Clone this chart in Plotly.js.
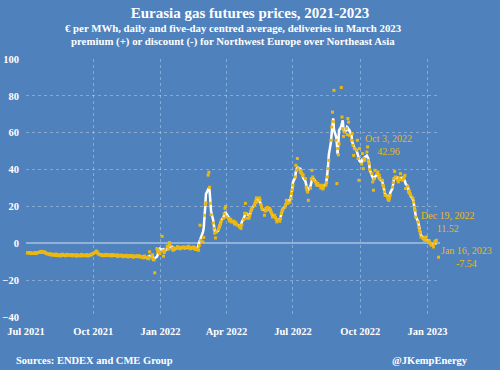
<!DOCTYPE html>
<html>
<head>
<meta charset="utf-8">
<script src="https://cdn.plot.ly/plotly-3.0.1.min.js"></script>
<style>html,body{margin:0;padding:0;background:#4F81BD;}#chart{width:500px;height:370px;}</style>
</head>
<body>
<div id="chart"></div>
<script>
// Daily premium (+) / discount (-), EUR per MWh, one value per business day of each month
const jul21 = [-5.1,-5.3,-5.0,-5.4,-5.2,-5.6,-5.3,-5.5,-5.1,-5.4,-5.6,-5.2,-5.0,-4.7,-4.5,-4.4,-4.8,-4.6,-5.0,-5.3,-5.5,-5.8];
const aug21 = [-5.9,-6.2,-5.7,-6.4,-6.0,-6.6,-6.3,-5.8,-6.1,-6.7,-6.5,-6.9,-6.2,-6.4,-5.9,-6.6,-6.8,-6.3,-6.0,-6.5,-6.2,-6.7];
const sep21 = [-6.4,-6.1,-6.8,-6.3,-6.6,-7.0,-6.2,-6.5,-6.9,-6.4,-6.0,-6.7,-6.3,-6.8,-6.5,-6.1,-6.6,-6.9,-6.2,-6.4,-6.0,-5.6];
const oct21 = [-5.5,-5.0,-4.2,-4.6,-5.3,-5.9,-6.4,-6.1,-6.6,-6.3,-6.8,-6.0,-6.5,-6.2,-6.7,-6.4,-6.1,-6.9,-6.3,-6.6,-6.2];
const nov21 = [-6.5,-6.9,-6.3,-7.1,-6.7,-6.4,-7.0,-6.6,-7.3,-6.8,-6.5,-7.2,-6.9,-7.4,-6.7,-7.0,-6.6,-7.3,-7.5,-6.9,-7.1,-6.8];
const dec21 = [-7.0,-7.4,-6.8,-7.6,-7.2,-7.9,-7.3,-6.9,-7.7,-8.2,-7.5,-8.4,-4.6,-7.1,-6.2,-8.5,-9.0,-16.0,-2.9,-4.5,-3.8,-5.0,-5.6];
const jan22 = [3.8,-4.2,-7.0,-5.0,-3.8,-1.5,-2.0,-3.2,0.4,-1.0,-2.9,-3.8,-2.5,-3.3,-2.9,-1.8,-2.6,-2.2,-2.4,-3.0,-2.1];
const feb22 = [-2.3,-2.0,-2.8,-2.4,-2.0,-1.6,-2.6,-2.2,-3.0,-2.5,-2.0,-2.9,-2.3,-3.4,-3.0,-3.8,-1.1,9.8,1.6,0.7];
const mar22 = [3.2,15.2,21.0,22.0,37.0,38.5,30.4,21.7,15.5,11.0,8.1,5.5,2.9,6.1,7.5,8.5,9.8,10.5,12.0,13.6,16.0,19.0,20.0];
const apr22 = [14.3,13.5,12.5,12.0,13.0,11.6,12.0,10.5,11.5,10.8,10.0,9.5,8.8,9.5,8.1,10.0,13.0,16.3,21.7,16.0,13.6];
const may22 = [13.6,15.0,17.0,18.0,19.0,20.5,21.7,23.0,24.6,22.4,24.6,23.5,21.0,19.7,18.5,15.2,17.5,19.0,18.0,19.5,19.0,18.2];
const jun22 = [17.0,16.0,14.3,15.2,14.0,13.0,11.6,12.5,12.0,13.5,16.1,17.5,18.5,19.7,21.0,23.3,22.5,21.7,22.4,24.5,27.0,29.0];
const jul22 = [31.5,36.0,42.3,39.6,46.0,40.5,38.7,39.5,37.8,36.5,37.0,35.1,30.5,29.0,27.8,23.3,30.0,35.0,39.6,36.0,34.2];
const aug22 = [33.3,32.0,31.5,32.5,31.5,30.0,31.5,30.5,29.5,30.5,31.5,33.0,36.0,40.5,45.0,55.9,63.1,71.2,66.0,83.0,55.9,32.4,51.4];
const sep22 = [48.0,54.0,84.5,68.5,62.2,58.0,60.4,62.2,59.0,67.7,65.8,58.6,55.9,59.5,53.2,47.7,51.4,50.5,55.9,46.0,34.2,51.4];
const oct22 = [42.96,48.7,40.5,46.0,45.0,49.5,52.3,45.0,43.2,40.0,37.8,33.3,28.8,35.0,39.6,37.8,38.7,36.0,36.9,35.0,34.2];
const nov22 = [31.5,30.5,28.0,26.0,25.1,24.0,23.3,24.5,26.0,30.5,33.0,35.1,39.0,36.0,34.2,33.3,35.5,34.5,37.8,34.2,35.1,36.0];
const dec22 = [36.9,29.7,31.0,27.8,28.5,27.0,26.0,24.5,22.4,19.5,17.9,14.3,11.52,8.8,7.0,5.5,3.4,2.5,3.0,1.6,2.0,3.4];
const jan23 = [0.7,1.5,0.2,-0.2,-1.0,-2.0,-0.2,0.8,1.2,1.6,-7.54];

const months = [
  [2021,7,jul21],[2021,8,aug21],[2021,9,sep21],[2021,10,oct21],[2021,11,nov21],[2021,12,dec21],
  [2022,1,jan22],[2022,2,feb22],[2022,3,mar22],[2022,4,apr22],[2022,5,may22],[2022,6,jun22],
  [2022,7,jul22],[2022,8,aug22],[2022,9,sep22],[2022,10,oct22],[2022,11,nov22],[2022,12,dec22],
  [2023,1,jan23]
];

const tickLabels = ['Jul 2021','Oct 2021','Jan 2022','Apr 2022','Jul 2022','Oct 2022','Jan 2023'];
const tickDates  = ['2021-07-01','2021-10-01','2022-01-01','2022-04-01','2022-07-01','2022-10-01','2023-01-01'];

const labelPoints = [
  {date:'2022-10-03', value:42.96, text:'Oct 3, 2022<br>42.96', dx:27, dy:19},
  {date:'2022-12-19', value:11.52, text:'Dec 19, 2022<br>11.52', dx:30, dy:0},
  {date:'2023-01-16', value:-7.54, text:'Jan 16, 2023<br>-7.54', dx:28, dy:0}
];

function pad(n){return (n<10?'0':'')+n;}
const dates = [], vals = [];
months.forEach(([y,m,arr])=>{
  const days=[];
  const dim = new Date(Date.UTC(y,m,0)).getUTCDate();
  for(let d=1; d<=dim; d++){
    const wd = new Date(Date.UTC(y,m-1,d)).getUTCDay();
    if(wd!==0 && wd!==6) days.push(y+'-'+pad(m)+'-'+pad(d));
  }
  const n = Math.min(days.length, arr.length);
  for(let i=0;i<n;i++){ dates.push(days[i]); vals.push(arr[i]); }
});

// five-day centred average
const avgX=[], avgY=[];
for(let i=2;i<vals.length-2;i++){
  avgX.push(dates[i]);
  avgY.push((vals[i-2]+vals[i-1]+vals[i]+vals[i+1]+vals[i+2])/5);
}

const SERIF = '"Liberation Serif", "Times New Roman", serif';
const GOLD = '#EDB80E';
const GRID = 'rgba(255,255,255,0.32)';

const traces = [
  {x:avgX, y:avgY, type:'scatter', mode:'lines', line:{color:'#FFFFFF', width:2.5}, hoverinfo:'skip', showlegend:false},
  {x:dates, y:vals, type:'scatter', mode:'markers', marker:{color:GOLD, size:3, symbol:'square'}, showlegend:false}
];

const ann = labelPoints.map(p=>({
  x:p.date, y:p.value, xref:'x', yref:'y', text:p.text, showarrow:false,
  xshift:p.dx, yshift:p.dy, xanchor:'center', yanchor:'middle',
  font:{family:SERIF, size:10, color:GOLD}, align:'center'
}));
ann.push(
  {xref:'paper', yref:'paper', x:0.5, y:1, xanchor:'center', yanchor:'bottom', yshift:23, showarrow:false,
   text:'<b>€ per MWh, daily and five-day centred average, deliveries in March 2023</b>',
   font:{family:SERIF, size:10.8, color:'#FFFFFF'}},
  {xref:'paper', yref:'paper', x:0.5, y:1, xanchor:'center', yanchor:'bottom', yshift:9, showarrow:false,
   text:'<b>premium (+) or discount (-) for Northwest Europe over Northeast Asia</b>',
   font:{family:SERIF, size:10.8, color:'#FFFFFF'}},
  {xref:'paper', yref:'paper', x:-0.03, y:0, xanchor:'left', yanchor:'middle', yshift:-43, showarrow:false,
   text:'<b>Sources: ENDEX and CME Group</b>', font:{family:SERIF, size:10.5, color:'#FFFFFF'}},
  {xref:'paper', yref:'paper', x:1.072, y:0, xanchor:'right', yanchor:'middle', yshift:-43, showarrow:false,
   text:'<b>@JKempEnergy</b>', font:{family:SERIF, size:10.5, color:'#FFFFFF'}}
);

const layout = {
  width:500, height:370,
  margin:{l:26, r:60, t:59, b:53},
  paper_bgcolor:'#4F81BD', plot_bgcolor:'#4F81BD',
  title:{text:'<b>Eurasia gas futures prices, 2021-2023</b>', x:0.5, xanchor:'center', y:0.965, yanchor:'middle',
         font:{family:SERIF, size:15, color:'#FFFFFF'}},
  xaxis:{type:'date', range:['2021-07-01','2023-01-18'], tickvals:tickDates, ticktext:tickLabels,
         showgrid:true, gridcolor:GRID, griddash:'dot', gridwidth:1,
         zeroline:false, showline:false, ticks:'', ticklabelstandoff:6,
         tickfont:{family:SERIF, size:10.5, color:'#FFFFFF', weight:'bold'}},
  yaxis:{range:[-40,100], dtick:20, tick0:0, showgrid:true, gridcolor:GRID, griddash:'dot',
         zeroline:true, zerolinecolor:'rgba(255,255,255,0.38)', zerolinewidth:2,
         showline:false, ticks:'', ticklabelstandoff:6,
         tickfont:{family:SERIF, size:10.5, color:'#FFFFFF', weight:'bold'}},
  annotations:ann,
  showlegend:false
};

Plotly.newPlot('chart', traces, layout, {displayModeBar:false, staticPlot:true});
</script>
</body>
</html>
